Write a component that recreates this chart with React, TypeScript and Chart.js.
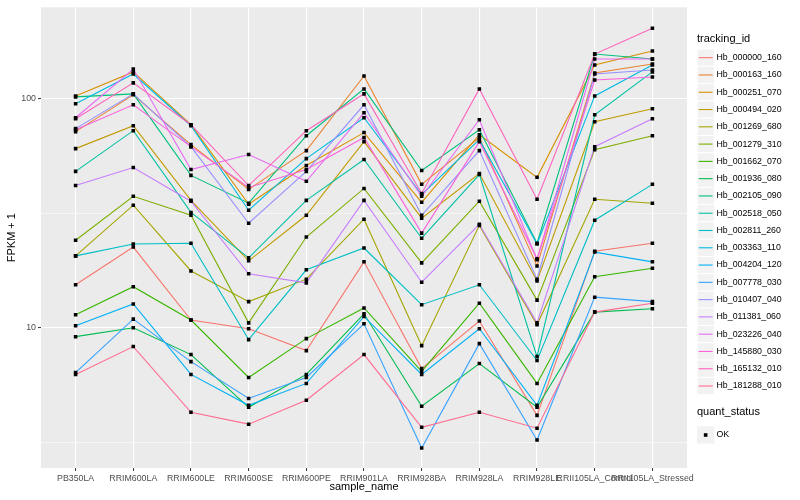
import React, { useEffect, useRef } from "react";
import { Chart, registerables } from "chart.js";

Chart.register(...registerables);

const categories = [
  "PB350LA", "RRIM600LA", "RRIM600LE", "RRIM600SE", "RRIM600PE", "RRIM901LA",
  "RRIM928BA", "RRIM928LA", "RRIM928LE", "RRII105LA_Control", "RRII105LA_Stressed",
];

const trackingIds = [
  "Hb_000000_160", "Hb_000163_160", "Hb_000251_070", "Hb_000494_020", "Hb_001269_680",
  "Hb_001279_310", "Hb_001662_070", "Hb_001936_080", "Hb_002105_090", "Hb_002518_050",
  "Hb_002811_260", "Hb_003363_110", "Hb_004204_120", "Hb_007778_030", "Hb_010407_040",
  "Hb_011381_060", "Hb_023226_040", "Hb_145880_030", "Hb_165132_010", "Hb_181288_010",
];

const seriesColors = [
  "#F8766D", "#EA8331", "#D89000", "#C09B00", "#A3A500", "#7CAE00", "#39B600", "#00BB4E",
  "#00BF7D", "#00C1A3", "#00BFC4", "#00BAE0", "#00B0F6", "#35A2FF", "#9590FF", "#C77CFF",
  "#E76BF3", "#FA62DB", "#FF62BC", "#FF6C91",
];

const hb000000_160 = [15.4, 22.5, 10.8, 9.9, 7.94, 19.4, 6.63, 10.7, 4.14, 21.6, 23.4];
const hb000163_160 = [71.9, 104.1, 63.1, 40.2, 59.4, 125.9, 42.3, 67.7, 18.6, 129.7, 142.0];
const hb000251_070 = [103.0, 131.1, 77.1, 34.6, 51.1, 71.2, 35.3, 69.7, 45.4, 140.5, 161.7];
const hb000494_020 = [60.6, 76.3, 36.0, 19.6, 31.0, 65.0, 30.1, 47.2, 16.0, 79.4, 90.5];
const hb001269_680 = [20.6, 34.3, 17.7, 13.0, 16.3, 29.8, 8.35, 28.0, 10.3, 36.4, 35.0];
const hb001279_310 = [24.1, 37.5, 31.0, 10.5, 24.9, 40.6, 19.2, 35.7, 13.2, 60.0, 69.0];
const hb001662_070 = [11.4, 15.1, 10.8, 6.06, 8.96, 12.2, 6.44, 12.8, 5.71, 16.7, 18.2];
const hb001936_080 = [9.14, 10.0, 7.63, 4.49, 6.25, 11.5, 4.54, 6.97, 4.49, 11.7, 12.1];
const hb002105_090 = [102.0, 105.1, 46.3, 35.0, 69.0, 110.5, 48.6, 73.3, 23.4, 156.9, 149.3];
const hb002518_050 = [48.2, 72.6, 31.9, 20.2, 36.0, 54.3, 24.6, 46.7, 7.48, 85.2, 131.1];
const hb002811_260 = [20.6, 23.2, 23.4, 8.87, 17.9, 22.3, 12.6, 15.4, 7.19, 29.5, 42.3];
const hb003363_110 = [95.1, 128.4, 76.3, 32.6, 54.8, 82.7, 38.2, 66.3, 23.2, 103.0, 140.5];
const hb004204_120 = [10.2, 12.7, 6.25, 4.58, 5.71, 11.2, 6.25, 9.9, 4.58, 21.4, 19.4];
const hb007778_030 = [6.37, 10.9, 7.11, 4.91, 6.06, 10.4, 2.98, 8.52, 3.23, 13.6, 13.0];
const hb010407_040 = [74.1, 105.1, 61.8, 28.6, 48.2, 94.2, 31.0, 59.4, 16.3, 128.4, 133.7];
const hb011381_060 = [41.8, 50.1, 35.7, 17.2, 15.7, 36.0, 15.8, 28.3, 10.5, 61.8, 81.8];
const hb023226_040 = [82.7, 135.0, 49.1, 57.1, 43.6, 86.9, 37.5, 81.0, 19.8, 149.3, 149.3];
const hb145880_030 = [73.3, 94.2, 61.8, 41.0, 49.1, 67.7, 25.9, 65.0, 20.0, 120.9, 124.6];
const hb165132_010 = [81.8, 117.4, 77.1, 41.8, 72.6, 105.1, 38.6, 110.5, 36.4, 156.9, 203.5];
const hb181288_010 = [6.25, 8.27, 4.27, 3.79, 4.82, 7.63, 3.67, 4.27, 3.64, 11.7, 12.8];

const seriesValues = [
  hb000000_160, hb000163_160, hb000251_070, hb000494_020, hb001269_680,
  hb001279_310, hb001662_070, hb001936_080, hb002105_090, hb002518_050,
  hb002811_260, hb003363_110, hb004204_120, hb007778_030, hb010407_040,
  hb011381_060, hb023226_040, hb145880_030, hb165132_010, hb181288_010,
];

const yTickValues = [3.1623, 10, 31.623, 100];
const yTickLabels = ["", "10", "", "100"];
const yMajor = [10, 100];
const quantStatus = ["OK"];

const FONT = '"Liberation Sans", Arial, Helvetica, sans-serif';

const panelBackground = {
  id: "panelBackground",
  beforeDraw(chart: any) {
    const { ctx, chartArea } = chart;
    ctx.save();
    ctx.fillStyle = "#EBEBEB";
    ctx.fillRect(chartArea.left, chartArea.top, chartArea.right - chartArea.left, chartArea.bottom - chartArea.top);
    ctx.restore();
  },
};

const ggLegend = {
  id: "ggLegend",
  afterDraw(chart: any) {
    const ctx = chart.ctx;
    ctx.save();
    ctx.textBaseline = "middle";
    ctx.textAlign = "left";
    ctx.fillStyle = "#000000";
    ctx.font = `11px ${FONT}`;
    ctx.fillText("tracking_id", 697, 39);
    const keyX = 697;
    const keyW = 17.3;
    const step = 17.28;
    const firstY = 57.7;
    ctx.font = `8.8px ${FONT}`;
    trackingIds.forEach((id, i) => {
      const cy = firstY + i * step;
      ctx.fillStyle = "#F2F2F2";
      ctx.fillRect(keyX, cy - keyW / 2, keyW, keyW);
      ctx.strokeStyle = "#FFFFFF";
      ctx.lineWidth = 1;
      ctx.strokeRect(keyX, cy - keyW / 2, keyW, keyW);
      ctx.strokeStyle = seriesColors[i];
      ctx.lineWidth = 1.1;
      ctx.beginPath();
      ctx.moveTo(keyX + 1.7, cy);
      ctx.lineTo(keyX + keyW - 1.7, cy);
      ctx.stroke();
      ctx.fillStyle = "#000000";
      ctx.fillText(id, 716.5, cy);
    });
    ctx.font = `11px ${FONT}`;
    ctx.fillText("quant_status", 697, 412);
    const okY = 435;
    ctx.fillStyle = "#F2F2F2";
    ctx.fillRect(keyX, okY - keyW / 2, keyW, keyW);
    ctx.fillStyle = "#000000";
    ctx.fillRect(keyX + keyW / 2 - 1.8, okY - 1.8, 3.6, 3.6);
    ctx.font = `8.8px ${FONT}`;
    ctx.fillText(quantStatus[0], 716.5, okY);
    ctx.restore();
  },
};

export default function App() {
  const canvasRef = useRef<HTMLCanvasElement | null>(null);

  useEffect(() => {
    if (!canvasRef.current) return;
    const lineSets = seriesValues.map((vals, i) => ({
      label: trackingIds[i],
      data: vals.map((v, j) => ({ x: j, y: v })),
      borderColor: seriesColors[i],
      backgroundColor: seriesColors[i],
      borderWidth: 1.1,
      pointRadius: 0,
      tension: 0,
      fill: false,
      order: 20 - i,
    }));
    const pointSet = {
      label: "OK",
      type: "scatter" as const,
      data: seriesValues.flatMap((vals) => vals.map((v, j) => ({ x: j, y: v }))),
      showLine: false,
      pointStyle: "rect",
      pointRadius: 2.5,
      pointBorderWidth: 0,
      backgroundColor: "#000000",
      borderColor: "#000000",
      order: 0,
    };
    const chart = new Chart(canvasRef.current, {
      type: "line",
      data: { datasets: [...lineSets, pointSet] as any },
      options: {
        animation: false,
        responsive: false,
        devicePixelRatio: 1,
        layout: { padding: { top: 5, right: 113, bottom: 0, left: 0 } },
        plugins: {
          legend: { display: false },
          tooltip: { enabled: false },
        },
        scales: {
          x: {
            type: "linear",
            min: -0.6,
            max: 10.6,
            afterBuildTicks: (scale: any) => {
              scale.ticks = categories.map((_, i) => ({ value: i }));
            },
            afterFit: (scale: any) => {
              scale.height = 32;
            },
            border: { display: false },
            grid: {
              color: "#FFFFFF",
              lineWidth: 1.1,
              drawTicks: true,
              tickLength: 3,
              tickColor: "#333333",
              tickWidth: 1,
            },
            ticks: {
              autoSkip: false,
              maxRotation: 0,
              minRotation: 0,
              padding: 2,
              color: "#4D4D4D",
              font: { family: FONT, size: 8.8 },
              callback: (v: any) => categories[Math.round(Number(v))] ?? "",
            },
            title: {
              display: true,
              text: "sample_name",
              color: "#000000",
              font: { family: FONT, size: 11 },
              padding: { top: 0, bottom: 6.4 },
            },
          },
          y: {
            type: "logarithmic",
            min: 2.438,
            max: 251.2,
            afterBuildTicks: (scale: any) => {
              scale.ticks = yTickValues.map((v) => ({ value: v }));
            },
            afterFit: (scale: any) => {
              scale.width = 41;
            },
            border: { display: false },
            grid: {
              color: "#FFFFFF",
              lineWidth: (c: any) => (yMajor.includes(c.tick?.value) ? 1.1 : 0.55),
              drawTicks: true,
              tickLength: 3,
              tickColor: (c: any) => (yMajor.includes(c.tick?.value) ? "#333333" : "rgba(0,0,0,0)"),
              tickWidth: 1,
            },
            ticks: {
              autoSkip: false,
              padding: 2,
              color: "#4D4D4D",
              font: { family: FONT, size: 8.8 },
              callback: (v: any) => {
                const idx = yTickValues.indexOf(Number(v));
                return idx >= 0 ? yTickLabels[idx] : "";
              },
            },
            title: {
              display: true,
              text: "FPKM + 1",
              color: "#000000",
              font: { family: FONT, size: 11 },
              padding: { top: 5.4, bottom: 0 },
            },
          },
        },
      },
      plugins: [panelBackground, ggLegend],
    });
    return () => chart.destroy();
  }, []);

  return (
    <div style={{ position: "fixed", left: 0, top: 0, width: 800, height: 500, background: "#FFFFFF" }}>
      <canvas ref={canvasRef} width={800} height={500} style={{ width: 800, height: 500, display: "block" }} />
    </div>
  );
}
